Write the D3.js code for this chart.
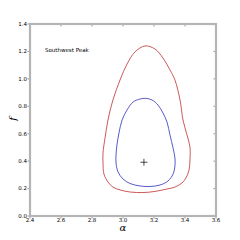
<!DOCTYPE html>
<meta charset="utf-8">
<body style="margin:0;background:#fff">
<style>
  .tick-label { font-family: "DejaVu Sans", sans-serif; font-size: 5.5px; fill: #000; }
  .caption { font-family: "DejaVu Sans", sans-serif; font-size: 5.5px; fill: #000; }
  .axis-title { font-family: "DejaVu Serif", serif; font-style: italic; fill: #000; }
</style>
<svg width="240" height="240"></svg>
<script src="https://d3js.org/d3.v7.min.js"></script>
<script>

// data
var xTicks = [2.4, 2.6, 2.8, 3.0, 3.2, 3.4, 3.6];
var yTicks = [0.0, 0.2, 0.4, 0.6, 0.8, 1.0, 1.2, 1.4];

var outerAlpha = [3.142, 3.206, 3.258, 3.303, 3.335, 3.368, 3.387, 3.413, 3.432, 3.432, 3.426, 3.406, 3.381, 3.335, 3.284, 3.206, 3.129, 3.045, 2.981, 2.935, 2.903, 2.877, 2.871, 2.871, 2.884, 2.903, 2.935, 2.981, 3.026, 3.077];
var outerF     = [1.240, 1.218, 1.152, 1.065, 0.992, 0.846, 0.700, 0.591, 0.503, 0.408, 0.335, 0.277, 0.241, 0.211, 0.197, 0.179, 0.171, 0.175, 0.190, 0.211, 0.248, 0.306, 0.386, 0.459, 0.569, 0.700, 0.846, 0.992, 1.108, 1.196];

var innerAlpha = [3.146, 3.187, 3.226, 3.258, 3.284, 3.303, 3.323, 3.335, 3.335, 3.323, 3.290, 3.239, 3.174, 3.110, 3.045, 3.000, 2.968, 2.955, 2.955, 2.961, 2.974, 2.994, 3.026, 3.065, 3.110];
var innerF     = [0.858, 0.846, 0.809, 0.751, 0.685, 0.591, 0.496, 0.423, 0.365, 0.306, 0.255, 0.226, 0.215, 0.219, 0.237, 0.270, 0.321, 0.386, 0.445, 0.518, 0.605, 0.700, 0.773, 0.831, 0.853];

var peak = [3.135, 0.392];

var svg = d3.select("svg");
var mLeft = 30, mRight = 216, mTop = 24, mBottom = 216;

var x = d3.scaleLinear().domain([2.4, 3.6]).range([mLeft, mRight]);
var y = d3.scaleLinear().domain([0, 1.4]).range([mBottom, mTop]);

var line = d3.line()
    .x(function (d) { return x(d[0]); })
    .y(function (d) { return y(d[1]); })
    .curve(d3.curveCatmullRomClosed);

function pairs(a, b) { return a.map(function (v, i) { return [v, b[i]]; }); }

// contours
svg.append("path")
    .attr("d", line(pairs(outerAlpha, outerF)))
    .attr("fill", "none")
    .attr("stroke", "#c03c3c")
    .attr("stroke-width", 0.85);
svg.append("path")
    .attr("d", line(pairs(innerAlpha, innerF)))
    .attr("fill", "none")
    .attr("stroke", "#3c3cc0")
    .attr("stroke-width", 0.85);

// peak marker
var px = x(peak[0]), py = y(peak[1]);
svg.append("path")
    .attr("d", "M" + (px - 3.5) + "," + py + "H" + (px + 3.5) + "M" + px + "," + (py - 3.5) + "V" + (py + 3.5))
    .attr("stroke", "#000")
    .attr("stroke-width", 0.7);

// ticks
var tk = svg.append("g").attr("stroke", "#555").attr("stroke-width", 0.6);
xTicks.forEach(function (t) {
  tk.append("line").attr("x1", x(t)).attr("x2", x(t)).attr("y1", mBottom).attr("y2", mBottom + 2.5);
  tk.append("line").attr("x1", x(t)).attr("x2", x(t)).attr("y1", mTop).attr("y2", mTop + 2.5);
});
yTicks.forEach(function (t) {
  tk.append("line").attr("x1", mLeft - 2.5).attr("x2", mLeft).attr("y1", y(t)).attr("y2", y(t));
  tk.append("line").attr("x1", mRight - 2.5).attr("x2", mRight).attr("y1", y(t)).attr("y2", y(t));
});

// frame
svg.append("rect")
    .attr("x", mLeft).attr("y", mTop)
    .attr("width", mRight - mLeft).attr("height", mBottom - mTop)
    .attr("fill", "none")
    .attr("stroke", "#b4b4b4")
    .attr("stroke-width", 2.2);

// tick labels
svg.selectAll(".xl").data(xTicks).enter().append("text")
    .attr("class", "tick-label")
    .attr("x", function (d) { return x(d); })
    .attr("y", mBottom + 3.8)
    .attr("text-anchor", "middle")
    .attr("dy", "0.35em")
    .text(function (d) { return d.toFixed(1); });
svg.selectAll(".yl").data(yTicks).enter().append("text")
    .attr("class", "tick-label")
    .attr("x", mLeft - 3)
    .attr("y", function (d) { return y(d); })
    .attr("text-anchor", "end")
    .attr("dy", "0.35em")
    .text(function (d) { return d.toFixed(1); });

// caption
svg.append("text")
    .attr("class", "caption")
    .attr("x", 45)
    .attr("y", 52)
    .text("Southwest Peak");

// axis titles
svg.append("text")
    .attr("class", "axis-title")
    .attr("font-size", 10)
    .attr("text-anchor", "middle")
    .attr("x", 123)
    .attr("y", 230.5)
    .text("α");
svg.append("text")
    .attr("class", "axis-title")
    .attr("font-size", 10)
    .attr("text-anchor", "middle")
    .attr("transform", "translate(16,119) rotate(-90)")
    .text("f");

</script>
</body>
